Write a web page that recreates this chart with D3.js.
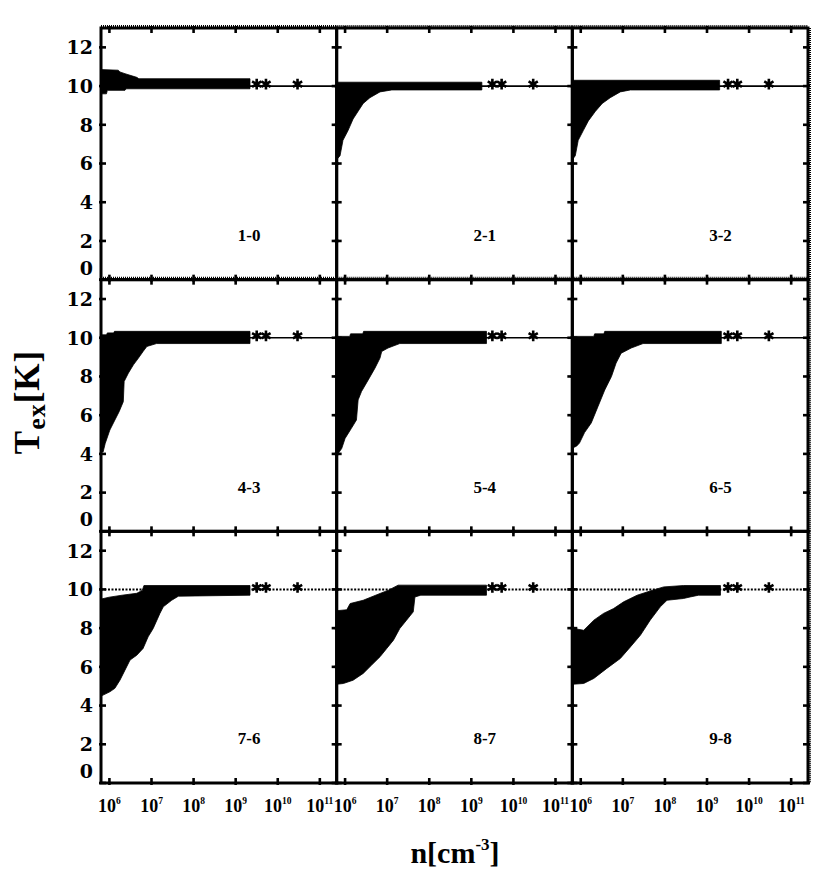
<!DOCTYPE html>
<html><head><meta charset="utf-8">
<script src="https://cdn.jsdelivr.net/npm/d3@7"></script>
<style>body{margin:0;background:#fff}</style>
</head><body><svg id="c" width="830" height="886" xmlns="http://www.w3.org/2000/svg"></svg>
<script>
// ---------- data ----------
const transitions = ["1-0","2-1","3-2","4-3","5-4","6-5","7-6","8-7","9-8"];
const xTickExp = [6,7,8,9,10,11];          // log10 n of major ticks
const yTicks = [0,2,4,6,8,10,12];
const thermalT = 10;                          // kinetic temperature line
const markerLogN = [9.5, 9.72, 10.47];        // isolated points at T = 10

// band edges per transition: [log10 n, Tex]
const up10 = [[5.8,10.85],[6.21,10.82],[6.25,10.73],[6.37,10.64],[6.65,10.45],[6.7,10.38],[9.34,10.38]];
const lo10 = [[5.8,9.6],[5.93,9.6],[5.95,9.78],[6.37,9.78],[6.4,9.86],[9.34,9.86]];
const up21 = [[5.8,10.2],[9.25,10.2]];
const lo21 = [[5.8,6.2],[5.88,6.4],[5.95,7.2],[6.07,7.7],[6.19,8.3],[6.31,8.7],[6.43,9.1],[6.59,9.4],[6.83,9.7],[7.11,9.8],[9.25,9.8]];
const up32 = [[5.8,10.3],[9.3,10.3]];
const lo32 = [[5.8,6.2],[5.87,6.4],[5.94,7.2],[6.06,7.7],[6.18,8.2],[6.35,8.7],[6.51,9.1],[6.7,9.4],[6.94,9.7],[7.18,9.8],[9.3,9.8]];
const up43 = [[5.8,10.15],[5.93,10.15],[5.95,10.25],[6.1,10.25],[6.12,10.33],[9.34,10.33]];
const lo43 = [[5.8,4.1],[5.85,4.1],[5.9,4.54],[6.01,5.23],[6.13,5.75],[6.23,6.18],[6.33,6.7],[6.35,7.74],[6.45,8.17],[6.57,8.6],[6.69,8.95],[6.8,9.29],[6.89,9.55],[7.12,9.7],[9.34,9.7]];
const up54 = [[5.8,10.07],[6.11,10.07],[6.13,10.2],[6.42,10.2],[6.44,10.33],[9.36,10.33]];
const lo54 = [[5.8,4.0],[5.84,4.03],[5.92,4.28],[6.0,4.8],[6.15,5.32],[6.27,5.75],[6.31,6.79],[6.39,7.22],[6.55,7.82],[6.71,8.43],[6.83,8.95],[6.87,9.29],[7.02,9.47],[7.3,9.7],[9.36,9.7]];
const up65 = [[5.8,10.07],[6.31,10.07],[6.33,10.2],[6.55,10.2],[6.57,10.33],[9.34,10.33]];
const lo65 = [[5.8,4.3],[5.9,4.4],[5.97,4.56],[6.09,5.1],[6.25,5.6],[6.41,6.45],[6.57,7.3],[6.73,8.0],[6.84,8.69],[6.96,9.2],[7.2,9.47],[7.48,9.7],[9.34,9.7]];
const up76 = [[5.8,9.5],[6.0,9.6],[6.3,9.7],[6.65,9.8],[6.78,9.95],[6.82,10.2],[9.34,10.2]];
const lo76 = [[5.8,4.5],[5.85,4.54],[6.01,4.71],[6.13,4.89],[6.25,5.31],[6.37,5.83],[6.49,6.35],[6.65,6.6],[6.8,6.95],[6.92,7.55],[7.04,7.98],[7.2,8.76],[7.28,9.1],[7.48,9.44],[7.64,9.65],[9.34,9.7]];
const up87 = [[5.8,8.9],[6.04,8.95],[6.12,9.27],[6.43,9.44],[6.83,9.79],[7.03,9.96],[7.26,10.22],[9.36,10.22]];
const lo87 = [[5.8,5.1],[5.96,5.14],[6.19,5.31],[6.43,5.66],[6.63,6.09],[6.83,6.52],[6.99,6.95],[7.15,7.38],[7.3,7.98],[7.46,8.41],[7.62,8.84],[7.66,9.61],[7.8,9.7],[9.36,9.7]];
const up98 = [[5.8,7.95],[5.83,7.98],[6.07,7.89],[6.31,8.41],[6.54,8.76],[6.78,9.01],[7.02,9.36],[7.34,9.7],[7.65,9.92],[7.97,10.13],[8.44,10.2],[9.32,10.2]];
const lo98 = [[5.8,5.1],[6.07,5.14],[6.31,5.4],[6.62,5.92],[6.94,6.43],[7.18,7.03],[7.42,7.64],[7.65,8.41],[7.89,9.1],[8.05,9.44],[8.44,9.53],[8.6,9.61],[8.8,9.7],[9.32,9.7]];

const uppers = [up10,up21,up32,up43,up54,up65,up76,up87,up98];
const lowers = [lo10,lo21,lo32,lo43,lo54,lo65,lo76,lo87,lo98];

// ---------- layout ----------
const L = 101, R = 808, T0 = 28, B = 783;
const pw = (R - L) / 3, ph = (B - T0) / 3;
const svg = d3.select("#c");
const serif = "'Liberation Serif','Times New Roman',serif";
const wideSerif = "'DejaVu Serif',serif";

const x = d3.scaleLog().domain([Math.pow(10,5.8), Math.pow(10,11.4)]).range([0, pw]);
const y = d3.scaleLinear().domain([0, 13]).range([ph, 0]);
const line = d3.line().x(d => x(Math.pow(10, d[0]))).y(d => y(d[1]));
const astType = d3.symbolAsterisk || d3.symbolCross;

transitions.forEach((lab, i) => {
  const col = i % 3, row = Math.floor(i / 3);
  const g = svg.append("g").attr("transform", `translate(${L + col*pw},${T0 + row*ph})`);
  const cid = "clip" + i;
  g.append("clipPath").attr("id", cid).append("rect").attr("width", pw).attr("height", ph);
  const inner = g.append("g").attr("clip-path", `url(#${cid})`);

  // band
  const pts = uppers[i].concat(lowers[i].slice().reverse());
  inner.append("path").attr("d", line(pts) + "Z").attr("fill", "#000").attr("stroke", "#000").attr("stroke-width", 0.8);

  // T = 10 line
  inner.append("line")
    .attr("x1", 0).attr("x2", pw).attr("y1", y(thermalT)).attr("y2", y(thermalT))
    .attr("stroke", "#000").attr("stroke-width", row === 2 ? 2 : 1.6)
    .attr("stroke-dasharray", row === 2 ? "2,1.5" : null);

  // isolated points
  inner.selectAll("path.m").data(markerLogN).join("path").attr("class","m")
    .attr("transform", d => `translate(${x(Math.pow(10,d))},${y(thermalT + 0.1)})`)
    .attr("d", d3.symbol().type(astType).size(80))
    .attr("fill", "none").attr("stroke", "#000").attr("stroke-width", 2.6);

  // frame
  g.append("rect").attr("width", pw).attr("height", ph)
    .attr("fill", "none").attr("stroke", "#000").attr("stroke-width", 3);

  // dotted (dense minor tick) edges seen on the outer top / right and first row boundary
  const dotted = (x1, y1, x2, y2) => g.append("line").attr("x1", x1).attr("y1", y1).attr("x2", x2).attr("y2", y2)
    .attr("stroke", "#000").attr("stroke-width", 2).attr("stroke-dasharray", "1,1");
  if (row === 0) { dotted(0, -2, pw, -2); dotted(0, ph - 2, pw, ph - 2); }
  if (col === 2) dotted(pw + 2, 0, pw + 2, ph);

  // ticks
  xTickExp.forEach(e => {
    const xx = x(Math.pow(10, e));
    g.append("line").attr("x1", xx).attr("x2", xx).attr("y1", -2).attr("y2", 5)
      .attr("stroke", "#000").attr("stroke-width", 2.6);
    g.append("line").attr("x1", xx).attr("x2", xx).attr("y1", ph + 2).attr("y2", ph - 5)
      .attr("stroke", "#000").attr("stroke-width", 2.6);
  });
  yTicks.forEach(t => {
    const yy = y(t);
    g.append("line").attr("x1", -2).attr("x2", 5).attr("y1", yy).attr("y2", yy)
      .attr("stroke", "#000").attr("stroke-width", 2.6);
    g.append("line").attr("x1", pw + 2).attr("x2", pw - 5).attr("y1", yy).attr("y2", yy)
      .attr("stroke", "#000").attr("stroke-width", 2.6);
  });

  // panel label
  g.append("text").attr("x", x(Math.pow(10, 9.32))).attr("y", y(2.0))
    .attr("text-anchor", "middle").attr("font-family", serif).attr("font-weight", "bold")
    .attr("font-size", 17).text(lab);

  // y tick labels (left column)
  if (col === 0) {
    yTicks.forEach(t => {
      const tx = g.append("text").attr("x", -8).attr("text-anchor", "end")
        .attr("font-family", wideSerif).attr("font-weight", "bold").attr("font-size", 19)
        .text(t);
      if (t === 0) tx.attr("y", y(t) - 5);
      else tx.attr("y", y(t)).attr("dy", "0.36em");
    });
  }
  // x tick labels (bottom row)
  if (row === 2) {
    xTickExp.forEach(e => {
      const t = g.append("text").attr("x", x(Math.pow(10, e))).attr("y", ph + 29)
        .attr("text-anchor", "middle").attr("font-family", serif).attr("font-weight", "bold")
        .attr("font-size", 18);
      t.append("tspan").text("10");
      t.append("tspan").attr("dy", -8).attr("font-size", 9.5).text(e);
    });
  }
});

// axis titles
const xt = svg.append("text").attr("x", 455).attr("y", 863).attr("text-anchor", "middle")
  .attr("font-family", serif).attr("font-weight", "bold").attr("font-size", 30);
xt.append("tspan").text("n[cm");
xt.append("tspan").attr("dy", -13).attr("font-size", 17).text("-3");
xt.append("tspan").attr("dy", 13).text("]");

const yt = svg.append("text").attr("transform", "translate(39,402) rotate(-90)")
  .attr("text-anchor", "middle").attr("font-family", serif).attr("font-weight", "bold")
  .attr("font-size", 35).attr("letter-spacing", 1);
yt.append("tspan").text("T");
yt.append("tspan").attr("dy", 6).attr("font-size", 26).text("ex");
yt.append("tspan").attr("dy", -6).text("[K]");
</script>
</body></html>
